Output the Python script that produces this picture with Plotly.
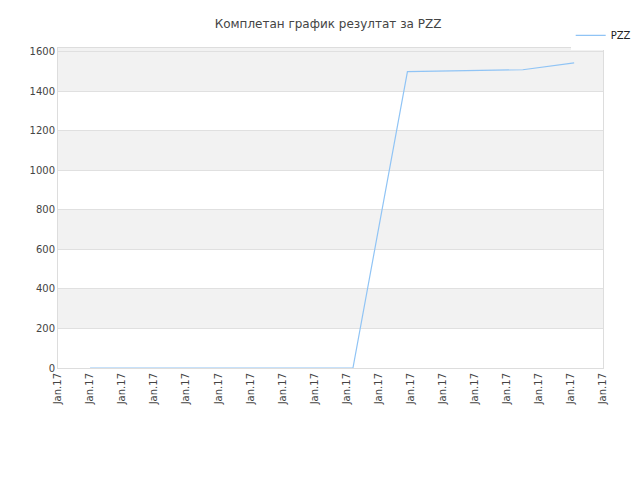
import plotly.graph_objects as go

x_pos = [1, 2, 3, 4, 5, 6, 7, 8, 9, 9.2, 10.9, 11.8, 13.5, 14.5, 16.1]
values = [0, 0, 0, 0, 0, 0, 0, 0, 0, 0, 1500, 1503, 1505, 1510, 1545]
tick_pos = list(range(18))
tick_labels = ["Jan.17"] * 18
bands = [(200, 400), (600, 800), (1000, 1200), (1400, 1620)]

fig = go.Figure(go.Scatter(x=x_pos, y=values, mode="lines", name="PZZ",
                           line=dict(color="#90c4f5", width=1.2)))
shapes = [dict(type="rect", xref="paper", yref="y", x0=0, x1=1, y0=a, y1=b,
               fillcolor="#f2f2f2", line_width=0, layer="below") for a, b in bands]
fig.update_layout(
    width=640, height=480, plot_bgcolor="white", paper_bgcolor="white",
    title=dict(text="Комплетан график резултат за PZZ", x=0.5, y=0.975,
               font=dict(family="DejaVu Sans", size=12, color="#444")),
    font=dict(family="DejaVu Sans", size=10, color="#444"),
    margin=dict(l=50, r=40, t=40, b=120),
    showlegend=True,
    legend=dict(x=1.06, y=1.085, xanchor="right", yanchor="top", font=dict(size=10, color="#222")),
    shapes=shapes,
    xaxis=dict(range=[0, 17], tickvals=tick_pos, ticktext=tick_labels, tickangle=-90, automargin=False,
               showgrid=False, zeroline=False, showline=True, linecolor="#ddd", mirror=True),
    yaxis=dict(range=[0, 1620], tickvals=[0, 200, 400, 600, 800, 1000, 1200, 1400, 1600], automargin=False,
               gridcolor="#e0e0e0", zeroline=False, showline=True, linecolor="#ddd", mirror=True),
)
fig.write_html("out.html")
